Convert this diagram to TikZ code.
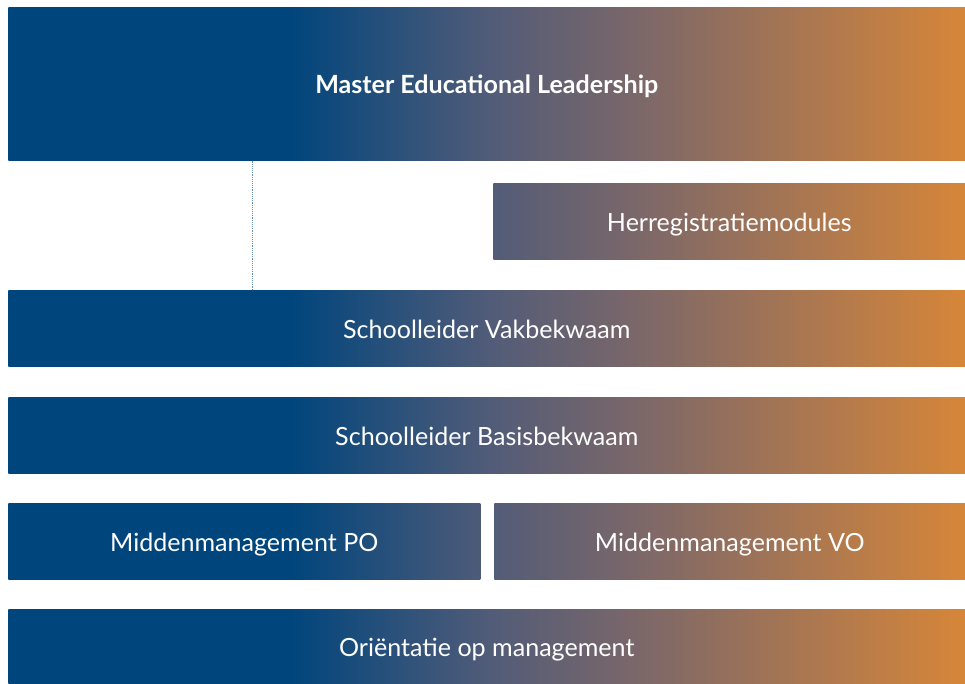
\documentclass[tikz,border=0pt]{standalone}
\usepackage{fontspec}
\setmainfont{Lato}
\usepackage{tikz}
\usetikzlibrary{calc}
\definecolor{edublue}{HTML}{00457C}
\definecolor{edumauve}{HTML}{525C78}
\definecolor{edutaupe}{HTML}{7E6868}
\definecolor{eduorange}{HTML}{D68639}
\colorlet{textcolor}{white}
% one band from left edge to right edge of the picture
\pgfdeclarehorizontalshading{eduband}{100bp}{%
    color(0bp)=(edublue);
    color(40bp)=(edublue);
    color(50.5bp)=(edumauve);
    color(58.5bp)=(edutaupe);
    color(75bp)=(eduorange);
    color(100bp)=(eduorange)}
\tikzstyle{band} =[
    rectangle,
    anchor=north west,
    inner sep=0pt,
    minimum height=57pt,
    text=textcolor,
    text height=17.9pt,
    text depth=2.8pt,
    font=\fontsize{18.8}{22}\selectfont,
    path picture={\shade[shading=eduband] (pagetl) rectangle (pagebr);}
    ]
\tikzstyle{link} =[
    draw=edublue!60,
    densely dotted,
    thin
    ]

\begin{document}
\begin{tikzpicture}[x=0.75pt,y=-0.75pt]
\useasboundingbox (0,0) rectangle (965,683);
\coordinate (pagetl) at (0,0);
\coordinate (pagebr) at (965,683);
\node [band, minimum width=717.75pt, minimum height=114.75pt,
       font=\fontsize{18.8}{22}\selectfont\bfseries] (master) at (8,7) {Master Educational Leadership};
\node [band, minimum width=354pt] (herreg) at (493,183) {Herregistratiemodules};
\node [band, minimum width=717.75pt] (vak) at (8,290) {Schoolleider Vakbekwaam};
\node [band, minimum width=717.75pt] (basis) at (8,397) {Schoolleider Basisbekwaam};
\node [band, minimum width=354pt] (mmpo) at (8,503) {Middenmanagement PO};
\node [band, minimum width=353.25pt] (mmvo) at (494,503) {Middenmanagement VO};
\node [band, minimum width=717.75pt, minimum height=55.5pt] (orient) at (8,609) {Ori\"entatie op management};
\coordinate (tap) at (252,160);
\draw [link] (master.south -| tap) -- (vak.north -| tap);
\end{tikzpicture}
\end{document}
